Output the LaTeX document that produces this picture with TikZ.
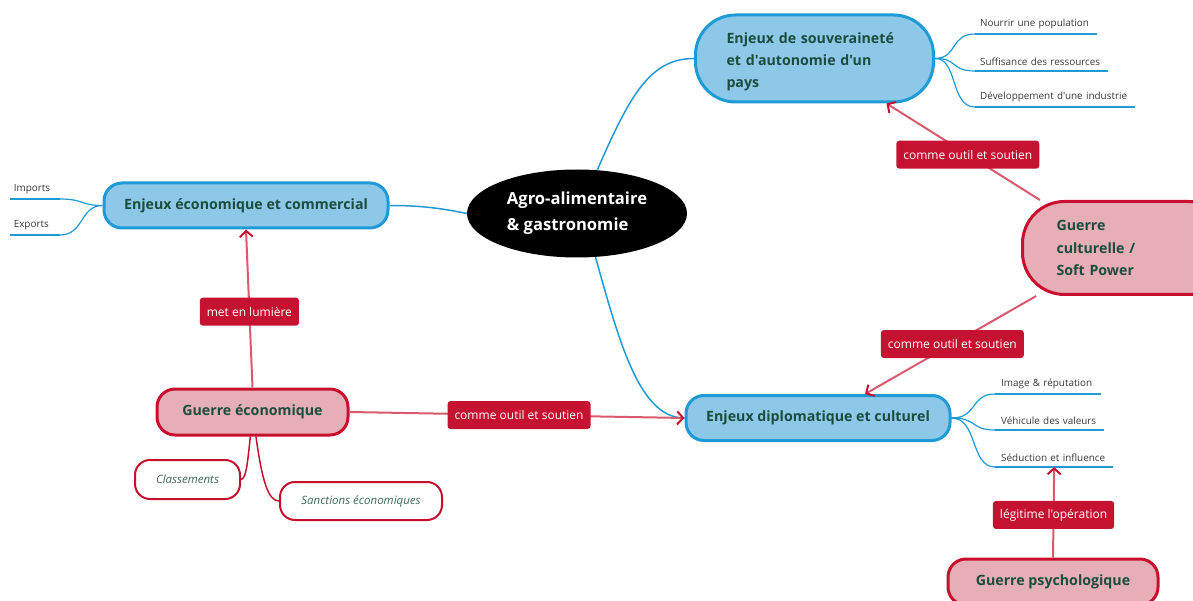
\documentclass[tikz,border=0pt]{standalone}
\usepackage{fontspec}
\setmainfont{Open Sans}[Ligatures=TeXOff]
\usetikzlibrary{arrows.meta,shapes.geometric}
\definecolor{bfill}{HTML}{8EC8E8}
\definecolor{bline}{HTML}{1E9AD6}
\definecolor{rfill}{HTML}{E6AEB6}
\definecolor{rline}{HTML}{C8102E}
\definecolor{lfill}{HTML}{C41230}
\definecolor{cline}{HTML}{D9596E}
\definecolor{tgreen}{HTML}{1B4D3E}
\definecolor{tgray}{HTML}{3A3A3A}
\definecolor{titalic}{HTML}{3E6B5D}
\begin{document}
\begin{tikzpicture}[x=1pt,y=-1pt,
  bluebox/.style={draw=bline, fill=bfill, line width=3pt, rounded corners=18pt, text=tgreen,
    font=\bfseries\fontsize{14.2}{22}\selectfont, minimum height=45pt, inner sep=0pt},
  redbox/.style={draw=rline, fill=rfill, line width=3pt, rounded corners=18pt, text=tgreen,
    font=\bfseries\fontsize{14.2}{22.5}\selectfont, minimum height=46pt, inner sep=0pt},
  whitebox/.style={draw=rline, fill=white, line width=2pt, rounded corners=15pt, text=titalic,
    font=\itshape\fontsize{11.5}{13}\selectfont, inner sep=0pt},
  sub/.style={inner xsep=5pt, inner ysep=5pt, align=left, text=tgray, font=\fontsize{9.9}{12}\selectfont},
  uline/.style={draw=bline, line width=2.5pt},
  branch/.style={draw=bline, line width=1.2pt},
  rbranch/.style={draw=rline, line width=1.5pt},
  lab/.style={fill=lfill, text=white, rounded corners=3pt, font=\fontsize{12}{14}\selectfont,
    inner xsep=7pt, inner ysep=0pt, minimum height=28pt},
  conn/.style={draw=cline, line width=2pt, -{Straight Barb[length=6pt,width=13pt,line width=2pt,color=rline]}}
]
\useasboundingbox (0,0) rectangle (1193,601);
\clip (0,0) rectangle (1193,601);

% central
\node[ellipse, fill=black, text=white, font=\bfseries\fontsize{16.6}{26}\selectfont, align=left,
  minimum width=220pt, minimum height=88pt, inner sep=0pt] (c) at (577,213.5) {Agro-alimentaire\\\& gastronomie};

% blue boxes
\node[bluebox, anchor=west, text width=176pt, inner xsep=31pt, minimum height=87pt, rounded corners=40pt, align=left]
  (sov) at (694,58.5) {\raisebox{-3.5pt}[\height][\depth]{\parbox{176pt}{Enjeux de souveraineté\\et d'autonomie d'un\\pays}}};
\node[bluebox, minimum width=284pt] (eco) at (246,205.5) {Enjeux économique et commercial};
\node[bluebox, minimum width=264pt] (dip) at (818,418) {Enjeux diplomatique et culturel};

% red boxes
\node[redbox, anchor=west, text width=140pt, inner xsep=34pt, minimum height=93pt, rounded corners=42pt, align=left]
  (gc) at (1021,248) {Guerre\\culturelle /\\Soft Power};
\node[redbox, minimum width=191pt] (ge) at (252.5,412) {Guerre économique};
\node[redbox, minimum width=210pt] (gp) at (1053,582) {Guerre psychologique};

\node[whitebox, minimum width=105pt, minimum height=39pt] (cl) at (187.5,479.5) {Classements};
\node[whitebox, minimum width=162pt, minimum height=38pt] (sa) at (361,501) {Sanctions économiques};

% sub items
\node[sub, anchor=south west, text width=112pt] (s1) at (975,34) {\mbox{Nourrir une population}};
\node[sub, anchor=south west, text width=123pt] (s2) at (975,71) {\mbox{Suffisance des ressources}};
\node[sub, anchor=south west, text width=150pt] (s3) at (975,107) {\mbox{Développement d'une industrie}};
\node[sub, anchor=south west, inner xsep=6pt, text width=94pt] (d1) at (995,394) {\mbox{Image \& réputation}};
\node[sub, anchor=south west, inner xsep=6pt, text width=97pt] (d2) at (995,430) {\mbox{Véhicule des valeurs}};
\node[sub, anchor=south west, inner xsep=6pt, text width=106pt] (d3) at (995,467) {\mbox{Séduction et influence}};
\node[sub, anchor=south east, inner xsep=4pt, text width=42pt] (e1) at (60,199) {\mbox{Imports}};
\node[sub, anchor=south east, inner xsep=4pt, text width=42pt] (e2) at (60,235) {\mbox{Exports}};

\foreach \n in {s1,s2,s3,d1,d2,d3,e1,e2} {\draw[uline] (\n.south west) -- (\n.south east);}

% blue branches
\draw[branch] (sov.east) .. controls (958,58) and (950,34) .. (s1.south west);
\draw[branch] (sov.east) .. controls (958,58) and (950,71) .. (s2.south west);
\draw[branch] (sov.east) .. controls (958,58) and (950,107) .. (s3.south west);
\draw[branch] (dip.east) .. controls (978,418) and (970,394) .. (d1.south west);
\draw[branch] (dip.east) .. controls (978,418) and (970,430) .. (d2.south west);
\draw[branch] (dip.east) .. controls (978,418) and (970,467) .. (d3.south west);
\draw[branch] (eco.west) .. controls (80,205.5) and (84,199) .. (e1.south east);
\draw[branch] (eco.west) .. controls (80,205.5) and (84,235) .. (e2.south east);

% central links
\draw[branch, line width=1.5pt] (c.west) .. controls (440,208) and (420,205.5) .. (eco.east);
\draw[branch, line width=1.5pt] (c.65) .. controls (630,95) and (650,58.5) .. (sov.west);
\draw[branch, line width=1.5pt] (c.-67) .. controls (620,345) and (640,418) .. (dip.west);

% red branches
\draw[rbranch] (ge.-95) .. controls (247,468) and (246,478) .. (cl.east);
\draw[rbranch] (ge.-82) .. controls (262,480) and (268,501) .. (sa.west);

% connectors
\draw[conn] (gc.151) -- node[lab, pos=0.47] (l1) {comme outil et soutien} (sov.-32.6);
\draw[conn] (gc.208) -- node[lab, pos=0.49] (l2) {comme outil et soutien} (dip.27.6);
\draw[conn] (ge.north) -- node[lab, pos=0.48] (l3) {met en lumière} (eco.south);
\draw[conn] (ge.east) -- node[lab, pos=0.506] (l4) {comme outil et soutien} (dip.west);
\draw[conn] (gp.north) -- node[lab, pos=0.47] (l5) {légitime l'opération} (d3.south);
\end{tikzpicture}
\end{document}
